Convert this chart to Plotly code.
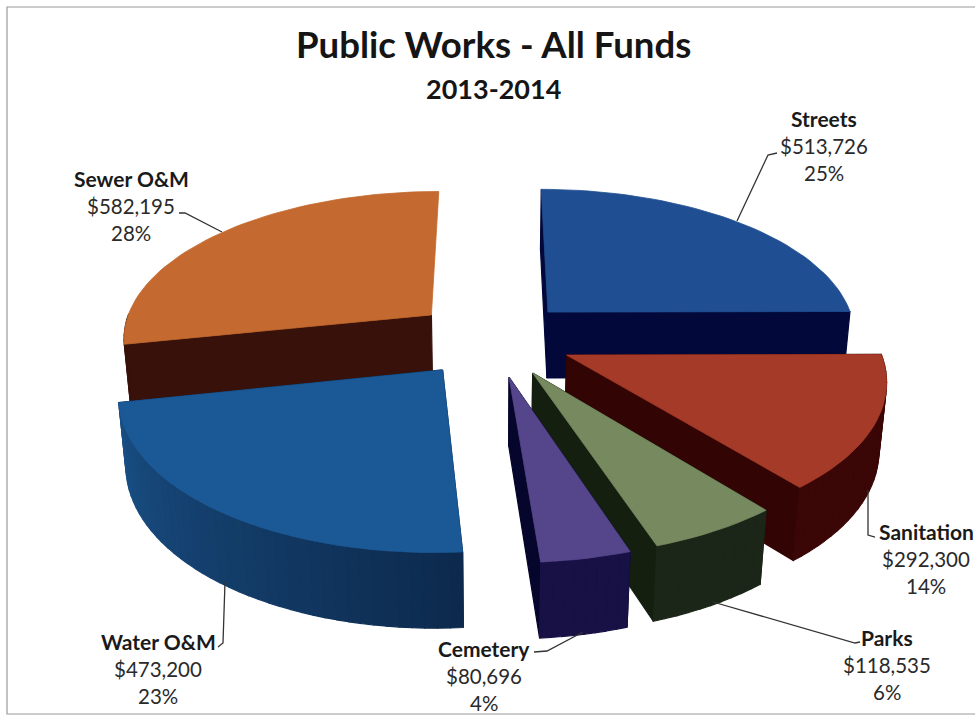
import math
import plotly.graph_objects as go

# Budget figures
categories = ["Streets", "Sanitation", "Parks", "Cemetery", "Water O&M", "Sewer O&M"]
values = [513726, 292300, 118535, 80696, 473200, 582195]

# Slice styling: top face, outer wall near / far end of the arc, radial faces
top_colors = ["#1f4f92", "#a43a27", "#76895f", "#55468b", "#1b5896", "#c4692f"]
wall_start = ["#03083a", "#3b0606", "#1c2618", "#181145", "#0d2a4e", "#38120a"]
wall_end = ["#03083a", "#3b0606", "#1c2618", "#181145", "#1a5288", "#38120a"]
face_colors = ["#03083a", "#330404", "#141f10", "#06052c", "#0d2a4e", "#38120a"]

# Radial faces left undrawn: (slice index, 0 = start edge / 1 = end edge)
hidden_faces = {(5, 1)}

# Back slices are painted first so the front ones overlap them
paint_order = [5, 0, 4, 1, 2, 3]

# Perspective camera for the tilted pie, in page pixels
CX, CY = 492.5, 338.5
FOCAL, DIST, TILT = 1935.0, 6.24, math.radians(28.3)
HEIGHT = 0.25
EXPLODE = 0.26


def project(x, y, z):
    """Plane x to the right, y toward the viewer, z up; returns page pixels."""
    s, c = math.sin(TILT), math.cos(TILT)
    w = DIST - y * c - z * s
    return CX + FOCAL * x / w, CY + FOCAL * (y * s - z * c) / w


def polygon(points, color, width=1.2):
    xs = [p[0] for p in points] + [points[0][0]]
    ys = [p[1] for p in points] + [points[0][1]]
    return go.Scatter(
        x=xs, y=ys, mode="lines", fill="toself", fillcolor=color,
        line=dict(color=color, width=width), hoverinfo="skip", showlegend=False,
    )


def mix(a, b, t):
    ca = [int(a[i:i + 2], 16) for i in (1, 3, 5)]
    cb = [int(b[i:i + 2], 16) for i in (1, 3, 5)]
    return "#%02x%02x%02x" % tuple(round(p + (q - p) * t) for p, q in zip(ca, cb))


total = sum(values)
spans = []
acc = 0.0
for v in values:
    spans.append((acc, acc + v / total * 2 * math.pi))
    acc += v / total * 2 * math.pi

fig = go.Figure()

for i in paint_order:
    a0, a1 = spans[i]
    mid = (a0 + a1) / 2
    ox, oy = EXPLODE * math.sin(mid), -EXPLODE * math.cos(mid)
    n = max(8, int((a1 - a0) / math.radians(2)))
    angles = [a0 + (a1 - a0) * k / n for k in range(n + 1)]
    rim = [(ox + math.sin(a), oy - math.cos(a)) for a in angles]
    apex = (ox, oy)

    # Side faces, farthest from the camera first
    faces = []
    for edge, second in enumerate((rim[0], rim[-1])):
        if (i, edge) in hidden_faces:
            continue
        faces.append(((apex[1] + second[1]) / 2,
                      [project(*apex, 0), project(*second, 0),
                       project(*second, -HEIGHT), project(*apex, -HEIGHT)], face_colors[i]))
    for k in range(n):
        p, q = rim[k], rim[k + 1]
        if math.cos((angles[k] + angles[k + 1]) / 2) > 0:
            continue  # the back half of the rim is hidden by the top face
        faces.append(((p[1] + q[1]) / 2,
                      [project(*p, 0), project(*q, 0), project(*q, -HEIGHT), project(*p, -HEIGHT)],
                      mix(wall_start[i], wall_end[i], k / n)))
    for _, pts, col in sorted(faces, key=lambda f: f[0]):
        fig.add_trace(polygon(pts, col))

    # Top face
    fig.add_trace(polygon([project(*apex, 0)] + [project(*p, 0) for p in rim], top_colors[i], 0.8))

# Label anchors (centre x, first line y) and their leader lines, in page pixels
label_anchor = {
    "Streets": (824, 118), "Sanitation": (926, 531), "Parks": (887, 637),
    "Cemetery": (484, 648), "Water O&M": (158, 641), "Sewer O&M": (131, 178),
}
leaders = {
    "Streets": "M737,221 L768,155 L777,153",
    "Sanitation": "M868,490 L868,535 L875,537",
    "Parks": "M713,602 L855,643 L860,642",
    "Cemetery": "M583,632 L547,651 L534,652",
    "Water O&M": "M225,582 L223,643 L218,647",
    "Sewer O&M": "M222,232 L185,213 L179,213",
}

LABEL_FONT = "Lato, 'Open Sans', sans-serif"
annotations = []
# Chart frame: open on the right-hand side
shapes = [dict(type="path", path="M980,7 L7,7 L7,714 L980,714",
               line=dict(color="#9a9a9a", width=1.2), layer="below")]


def text_at(x, y, text, size, bold=False, color="#2a2a2a"):
    annotations.append(dict(
        x=x, y=y, xref="x", yref="y", showarrow=False, xanchor="center", yanchor="middle",
        text=f"<b>{text}</b>" if bold else text,
        font=dict(family=LABEL_FONT, size=size, color=color),
    ))


text_at(493, 44, "Public Works - All Funds", 36.6, bold=True, color="#151515")
text_at(493, 88, "2013-2014", 27, bold=True, color="#151515")

for name, v in zip(categories, values):
    x, y = label_anchor[name]
    text_at(x, y, name, 21, bold=True, color="#1a1a1a")
    text_at(x, y + 28, f"${v:,}", 20.5)
    text_at(x, y + 55, f"{round(v / total * 100)}%", 20.5)
    shapes.append(dict(type="path", path=leaders[name], line=dict(color="#333333", width=1.3)))

fig.update_layout(
    width=975, height=717, margin=dict(l=0, r=0, t=0, b=0),
    paper_bgcolor="white", plot_bgcolor="white", showlegend=False,
    xaxis=dict(range=[0, 975], visible=False, fixedrange=True),
    yaxis=dict(range=[717, 0], visible=False, fixedrange=True),
    annotations=annotations, shapes=shapes,
)

fig.write_html("out.html")
